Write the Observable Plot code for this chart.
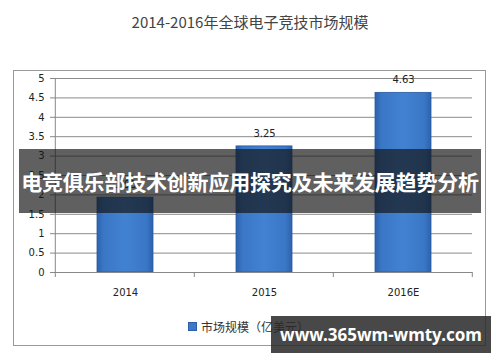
<!DOCTYPE html>
<html><head><meta charset="utf-8">
<script src="https://cdn.jsdelivr.net/npm/d3@7"></script>
<script src="https://cdn.jsdelivr.net/npm/@observablehq/plot@0.6"></script>
<style>
html,body{margin:0;padding:0;background:#fff;}
#wrap{position:relative;width:500px;height:362px;overflow:hidden;font-family:"DejaVu Sans",sans-serif;}
#title{position:absolute;left:0;top:11px;width:500px;text-align:center;font:15px "Noto Sans CJK SC",sans-serif;color:#444;}
#frame{position:absolute;left:13px;top:70px;width:473px;height:276px;border:1px solid #999;box-sizing:border-box;}
#chart{position:absolute;left:0;top:0;}
#legend{position:absolute;left:188px;top:318px;font:12px "Noto Sans CJK SC",sans-serif;color:#333;display:flex;align-items:center;}
#legend i{display:inline-block;width:7px;height:7px;background:#3b78c8;margin-right:4px;border:0.5px solid #2c5fa8;}
#banner{position:absolute;left:19px;top:149px;width:462px;height:64px;background:rgba(20,20,20,0.68);color:#fff;font:bold 21px "Noto Sans CJK SC",sans-serif;display:flex;align-items:center;justify-content:center;letter-spacing:-0.2px;}
#wm{position:absolute;left:271px;top:316px;width:220px;height:37px;background:rgba(40,40,40,0.85);color:#fff;font:bold 17px "Noto Sans",sans-serif;display:flex;align-items:center;justify-content:center;}
</style></head>
<body><div id="wrap">
<div id="frame"></div>
<div id="title">2014-2016年全球电子竞技市场规模</div>
<div id="chart"></div>
<div id="legend"><i></i>市场规模（亿美元）</div>
<div id="banner">电竞俱乐部技术创新应用探究及未来发展趋势分析</div>
<div id="wm">www.365wm-wmty.com</div>
</div>
<script>
const years = ["2014", "2015", "2016E"];
const values = [1.93, 3.25, 4.63];
const labels = ["1.93", "3.25", "4.63"];
const yTicks = [0, 0.5, 1, 1.5, 2, 2.5, 3, 3.5, 4, 4.5, 5];

const data = years.map((y, i) => ({year: y, value: values[i], label: labels[i]}));

const plot = Plot.plot({
  width: 500, height: 362,
  marginLeft: 55, marginRight: 28, marginTop: 78, marginBottom: 90,
  style: {fontFamily: "DejaVu Sans, sans-serif", fontSize: "10px", color: "#222", background: "transparent"},
  x: {domain: years, paddingInner: 0.6, paddingOuter: 0.3, label: null},
  y: {domain: [0, 5], label: null},
  marks: [
    Plot.gridY(yTicks, {stroke: "#8a8a8a", strokeOpacity: 1, strokeWidth: 1}),
    Plot.barY(data, {x: "year", y: "value", fill: "url(#barGrad)", stroke: "#2a5a9e", strokeWidth: 0.8}),
    Plot.text(data, {x: "year", y: "value", text: "label", dy: -13, fill: "#222", fontSize: 10}),
    Plot.axisY({ticks: yTicks, tickFormat: d => String(d), tickSize: 5, tickPadding: 6, stroke: "#888", fill: "#222"}),
    Plot.ruleY([0], {stroke: "#888"}),
    Plot.axisX({tickSize: 0, tickPadding: 16, fill: "#222"})
  ]
});

const svg = d3.select(plot);
const defs = svg.insert("defs", ":first-child");
const g = defs.append("linearGradient").attr("id", "barGrad").attr("x1", "0").attr("x2", "1").attr("y1", "0").attr("y2", "0");
g.append("stop").attr("offset", "0").attr("stop-color", "#2d62ad");
g.append("stop").attr("offset", "0.12").attr("stop-color", "#3a77c6");
g.append("stop").attr("offset", "0.5").attr("stop-color", "#4282d2");
g.append("stop").attr("offset", "0.88").attr("stop-color", "#3a77c6");
g.append("stop").attr("offset", "1").attr("stop-color", "#2d62ad");

const xs = plot.scale("x"), ys = plot.scale("y");
const step = xs.step;
const y0 = ys.apply(0), y5 = ys.apply(5);
const x0 = xs.apply(years[0]) - step * xs.paddingOuter;
svg.append("line").attr("x1", x0).attr("x2", x0).attr("y1", y5).attr("y2", y0).attr("stroke", "#888");
for (let i = 0; i <= years.length; i++) {
  const xb = x0 + i * step;
  svg.append("line").attr("x1", xb).attr("x2", xb).attr("y1", y0).attr("y2", y0 + 5).attr("stroke", "#888");
}
document.getElementById("chart").appendChild(plot);
</script>
</body></html>
